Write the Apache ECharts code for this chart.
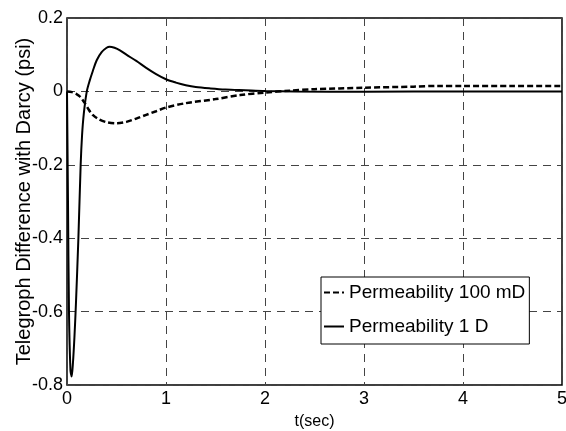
<!DOCTYPE html>
<html>
<head>
<meta charset="utf-8">
<script src="https://cdn.jsdelivr.net/npm/echarts@6/dist/echarts.min.js"></script>
<style>
  html, body { margin: 0; padding: 0; background: #fff; }
  #chart { width: 566px; height: 431px; }
</style>
</head>
<body>
<div id="chart"></div>
<script>
// Permeability 1 D (solid)
var tSolid = [0, 0.01, 0.02, 0.035, 0.047, 0.06, 0.075, 0.09, 0.115, 0.138, 0.152, 0.17, 0.2,
  0.23, 0.26, 0.3, 0.35, 0.4, 0.43, 0.48, 0.535, 0.6, 0.7, 0.8, 0.9, 1.0, 1.1, 1.2, 1.3,
  1.45, 1.6, 1.8, 2.0, 2.3, 3.0, 4.0, 5.0];
var vSolid = [0, -0.3, -0.6, -0.76, -0.777, -0.74, -0.67, -0.58, -0.4, -0.2, -0.12, -0.06, 0,
  0.03, 0.055, 0.085, 0.107, 0.119, 0.122, 0.119, 0.112, 0.1, 0.083, 0.064, 0.047, 0.033, 0.024, 0.017, 0.012,
  0.008, 0.005, 0.003, 0.001, 0, -0.001, 0, 0];

// Permeability 100 mD (dashed)
var tDashed = [0, 0.05, 0.1, 0.13, 0.18, 0.22, 0.26, 0.32, 0.4, 0.5, 0.6, 0.7, 0.8, 0.9, 1.0,
  1.2, 1.5, 1.75, 2.0, 2.25, 2.5, 3.0, 3.5, 3.75, 4.0, 4.5, 5.0];
var vDashed = [0, -0.002, -0.008, -0.014, -0.032, -0.05, -0.064, -0.076, -0.084, -0.087, -0.083, -0.074, -0.064, -0.054, -0.044,
  -0.032, -0.021, -0.01, -0.003, 0.002, 0.006, 0.01, 0.013, 0.015, 0.015, 0.015, 0.015];

var seriesNames = ['Permeability 100 mD', 'Permeability 1 D'];

function pairs(xs, ys) {
  return xs.map(function (x, i) { return [x, ys[i]]; });
}

var font = "'Liberation Sans', Arial, sans-serif";
var chart = echarts.init(document.getElementById('chart'));

chart.setOption({
  animation: false,
  backgroundColor: '#fff',
  grid: {
    left: 67,
    right: 4,
    top: 18,
    bottom: 46,
    outerBoundsMode: 'none',
    show: true,
    borderColor: '#000',
    borderWidth: 1.5,
  },
  legend: {
    orient: 'vertical',
    left: 321,
    top: 277,
    padding: [6, 4, 8, 2],
    itemGap: 15,
    itemWidth: 20,
    itemHeight: 14,
    borderColor: '#000',
    borderWidth: 1,
    backgroundColor: '#fff',
    itemStyle: { opacity: 0 },
    textStyle: { fontFamily: font, fontSize: 19, color: '#000' },
    data: seriesNames,
  },
  xAxis: {
    type: 'value',
    min: 0,
    max: 5,
    interval: 1,
    name: 't(sec)',
    nameLocation: 'middle',
    nameGap: 29,
    nameMoveOverlap: false,
    nameTextStyle: { fontFamily: font, fontSize: 16, color: '#000', verticalAlign: 'top' },
    axisLine: { show: false },
    axisTick: { show: false },
    axisLabel: { fontFamily: font, fontSize: 18, color: '#000', margin: 5 },
    splitLine: { lineStyle: { color: '#444', type: [8, 6], width: 1 } },
  },
  yAxis: {
    type: 'value',
    min: -0.8,
    max: 0.2,
    interval: 0.2,
    name: 'Telegroph Difference with Darcy (psi)',
    nameLocation: 'middle',
    nameGap: 33,
    nameMoveOverlap: false,
    nameTextStyle: { fontFamily: font, fontSize: 20, color: '#000' },
    axisLine: { show: false },
    axisTick: { show: false },
    axisLabel: { fontFamily: font, fontSize: 18, color: '#000', margin: 4 },
    splitLine: { lineStyle: { color: '#444', type: [8, 6], width: 1 } },
  },
  series: [
    {
      name: seriesNames[0],
      type: 'line',
      symbol: 'none',
      smooth: 0.3,
      color: '#000',
      lineStyle: { color: '#000', width: 2.5, type: [6, 3] },
      data: pairs(tDashed, vDashed),
    },
    {
      name: seriesNames[1],
      type: 'line',
      symbol: 'none',
      smooth: 0.3,
      color: '#000',
      lineStyle: { color: '#000', width: 2 },
      data: pairs(tSolid, vSolid),
    },
  ],
});
</script>
</body>
</html>
